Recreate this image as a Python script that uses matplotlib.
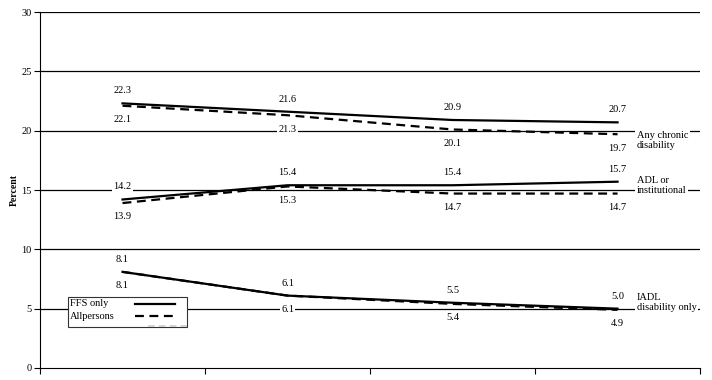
import numpy as np
import matplotlib.pyplot as plt
from matplotlib.patches import Rectangle
from matplotlib.lines import Line2D

plt.rcParams['font.family'] = ['Liberation Serif', 'DejaVu Serif']

# categories (no tick labels shown on the original)
periods = [0, 1, 2, 3]

chronic_ffs = [22.3, 21.6, 20.9, 20.7]
chronic_all = [22.1, 21.3, 20.1, 19.7]
adl_ffs = [14.2, 15.4, 15.4, 15.7]
adl_all = [13.9, 15.3, 14.7, 14.7]
iadl_ffs = [8.1, 6.1, 5.5, 5.0]
iadl_all = [8.1, 6.1, 5.4, 4.9]

group_names = ["Any chronic\ndisability", "ADL or\ninstitutional", "IADL\ndisability only"]
group_label_y = [19.2, 15.4, 5.5]
legend_names = ["FFS only", "Allpersons"]

dash = (0, (4, 2.5))

fig = plt.figure(figsize=(7.12, 3.8), dpi=100)
ax = fig.add_axes([0.0562, 0.0316, 0.927, 0.9368])

# gridlines
for yv in range(5, 31, 5):
    ax.axhline(yv, color='black', lw=0.9, zorder=1)

pairs = [(chronic_ffs, chronic_all), (adl_ffs, adl_all), (iadl_ffs, iadl_all)]
for i, (ffs, allp) in enumerate(pairs):
    ax.plot(periods, ffs, color='black', lw=1.6, zorder=3)
    ax.plot(periods, allp, color='black', lw=1.6, ls=dash, zorder=3)
    for x, a, b in zip(periods, ffs, allp):
        ax.annotate(f"{a:.1f}", (x, a), xytext=(0, 9), textcoords='offset points',
                    ha='center', va='center', fontsize=7.5, zorder=4,
                    bbox=dict(boxstyle='square,pad=0.1', fc='white', ec='none'))
        ax.annotate(f"{b:.1f}", (x, b), xytext=(0, -10), textcoords='offset points',
                    ha='center', va='center', fontsize=7.5, zorder=4,
                    bbox=dict(boxstyle='square,pad=0.1', fc='white', ec='none'))
    ax.text(3.115, group_label_y[i], group_names[i], ha='left', va='center',
            fontsize=7.5, linespacing=1.15, zorder=4,
            bbox=dict(boxstyle='square,pad=0.15', fc='white', ec='none'))

# legend box drawn by hand (text left, sample line right)
ax.add_patch(Rectangle((0.0424, 0.115), 0.1803, 0.0844, transform=ax.transAxes,
                       fc='white', ec='#333333', lw=0.8, zorder=5))
for j, (name, style) in enumerate(zip(legend_names, ['-', dash])):
    yy = 0.18 - j * 0.034
    ax.text(0.046, yy, name, transform=ax.transAxes, ha='left', va='center',
            fontsize=7.5, zorder=6)
    ax.add_line(Line2D([0.144, 0.205], [yy, yy], transform=ax.transAxes,
                       color='black', lw=1.6, ls=style, zorder=6))
ax.add_line(Line2D([0.164, 0.222], [0.119, 0.119], transform=ax.transAxes,
                   color='#cccccc', lw=1.2, ls=dash, zorder=6))

ax.set_xlim(-0.5, 3.5)
ax.set_ylim(0, 30)
ax.set_xticks([-0.5, 0.5, 1.5, 2.5, 3.5])
ax.set_xticklabels([])
ax.set_yticks(range(0, 31, 5))
ax.tick_params(axis='both', direction='out', length=4, width=0.8, labelsize=7.5, pad=2)
ax.spines['top'].set_visible(False)
ax.spines['right'].set_visible(False)
ax.set_ylabel("Percent", fontsize=7, fontweight='bold', labelpad=2)

fig.savefig("out.png", dpi=100)
